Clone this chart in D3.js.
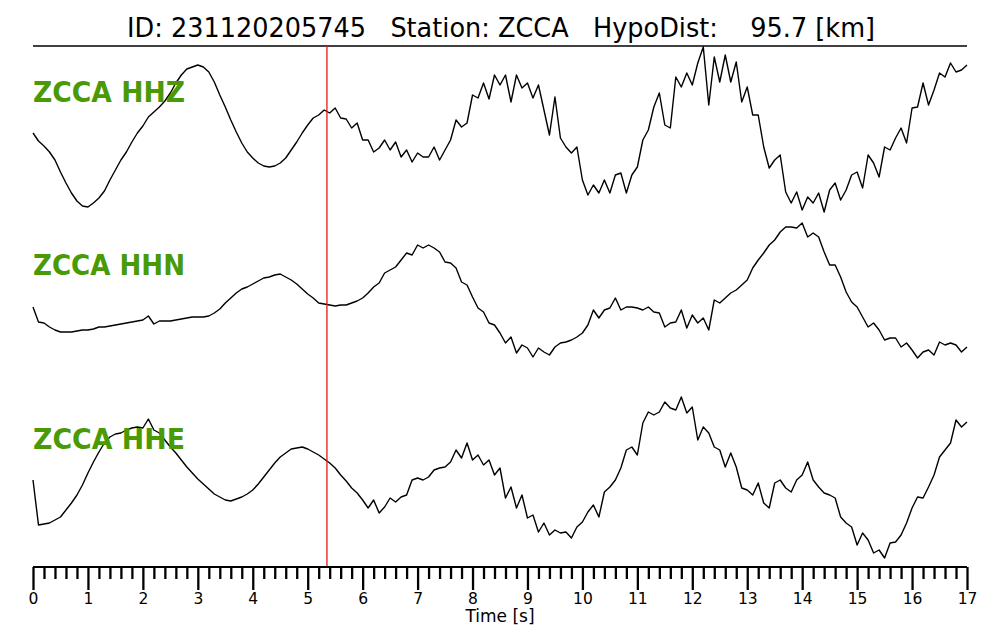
<!DOCTYPE html>
<html>
<head>
<meta charset="utf-8">
<script src="https://cdn.jsdelivr.net/npm/d3@7/dist/d3.min.js"></script>
<style>
  html, body { margin: 0; padding: 0; background: #fff; }
  svg { display: block; }
  text { font-family: "DejaVu Sans", sans-serif; }
</style>
</head>
<body>
<svg id="chart" width="1000" height="640"></svg>
<script>
// ---------------- data ----------------
const titleText = "ID: 231120205745   Station: ZCCA   HypoDist:    95.7 [km]";
const axisLabel = "Time [s]";
const timeStart = 0;
const timeEnd = 17;
const sampleStep = 0.1;           // seconds between samples
const pickTime = 5.35;            // red marker (s)
const tickLabels = ["0","1","2","3","4","5","6","7","8","9","10","11","12","13","14","15","16","17"];
const channels = ["ZCCA HHZ", "ZCCA HHN", "ZCCA HHE"];

// amplitudes (arbitrary counts), one sample every 0.1 s from 0 to 17 s
const hhz = [
  -3,-11,-16,-22,-30,-42,-53,-63,-71,-76,
  -77,-73,-68,-61,-50,-40,-30,-22,-12,-3,
  4,13,18,23,29,37,47,55,61,63,
  65,63,58,48,35,23,10,-2,-13,-22,
  -28,-33,-36,-37,-36,-33,-28,-20,-12,-3,
  5,12,15,20,17,22,12,11,2,7,
  -10,-10,-22,-18,-10,-20,-12,-27,-20,-32,
  -23,-27,-27,-17,-30,-20,-10,10,3,7,
  35,32,47,31,55,45,55,28,55,42,
  47,32,45,20,-5,33,-8,-17,-23,-17,
  -50,-65,-55,-63,-50,-63,-45,-43,-63,-45,
  -37,-10,0,23,37,5,2,53,43,57,
  45,67,83,25,73,48,75,48,68,28,
  43,15,15,-17,-38,-30,-25,-62,-73,-62,
  -80,-67,-73,-63,-82,-60,-53,-70,-60,-45,
  -42,-58,-25,-33,-47,-17,-20,-8,2,-13,
  22,23,47,25,40,57,53,67,58,60,
  65
];
const hhn = [
  -17,-32,-33,-37,-40,-42,-42,-42,-41,-40,
  -40,-39,-37,-37,-36,-35,-34,-33,-32,-31,
  -30,-26,-34,-31,-31,-31,-30,-29,-28,-27,
  -27,-27,-26,-23,-19,-13,-8,-3,1,3,
  6,9,12,13,15,16,13,10,6,1,
  -4,-8,-13,-14,-15,-16,-15,-15,-13,-11,
  -8,-3,3,7,17,20,23,30,37,35,
  45,42,45,42,38,28,27,22,8,5,
  -7,-18,-22,-33,-35,-43,-53,-47,-63,-55,
  -58,-67,-58,-62,-65,-57,-53,-52,-50,-47,
  -43,-35,-20,-28,-20,-18,-8,-20,-17,-17,
  -18,-20,-17,-22,-23,-37,-33,-32,-20,-38,
  -25,-33,-28,-40,-10,-13,-8,-3,0,5,
  10,22,30,37,45,50,58,63,63,62,
  67,53,57,53,38,25,25,13,-2,-12,
  -17,-27,-37,-33,-40,-50,-48,-48,-57,-53,
  -60,-68,-62,-60,-65,-52,-55,-53,-55,-62,
  -57
];
const hhe = [
  5,-40,-39,-38,-35,-32,-25,-18,-10,0,
  12,23,33,42,48,51,52,55,57,58,
  57,66,55,52,45,38,32,25,18,12,
  6,1,-4,-9,-12,-15,-16,-14,-12,-9,
  -5,1,8,15,22,28,32,36,37,38,
  36,33,30,26,22,17,10,4,-3,-8,
  -15,-23,-15,-28,-22,-13,-17,-12,-10,5,
  7,5,8,15,17,18,23,35,27,42,
  25,30,20,25,10,17,-13,-2,-23,-10,
  -33,-30,-47,-38,-50,-45,-48,-47,-53,-42,
  -37,-27,-20,-32,-7,-2,5,17,35,38,
  30,62,73,70,73,83,77,75,88,72,
  78,45,58,52,38,35,18,32,18,-3,
  -5,-10,2,-18,-23,2,5,-3,-7,5,
  10,23,5,-2,-8,-10,-13,-32,-38,-42,
  -60,-48,-55,-68,-65,-73,-58,-57,-50,-38,
  -23,-12,-13,-2,10,28,35,42,65,58,
  63
];
const traces = [hhz, hhn, hhe];

// ---------------- layout ----------------
const svg = d3.select("#chart");
const left = 33, right = 967;
const topLine = 46, axisY = 567;
const traceCenters = [130, 290, 485];
const labelBaselines = [102, 275, 449];
const green = "#4a9a06";

const x = d3.scaleLinear().domain([timeStart, timeEnd]).range([left, right]);

// title
svg.append("text")
  .attr("x", 127).attr("y", 37)
  .style("white-space", "pre")
  .attr("xml:space", "preserve")
  .attr("font-size", 26.5)
  .attr("textLength", 748)
  .attr("lengthAdjust", "spacingAndGlyphs")
  .attr("fill", "#000")
  .text(titleText);

// top rule
svg.append("line")
  .attr("x1", x(timeStart)).attr("x2", x(timeEnd))
  .attr("y1", topLine).attr("y2", topLine)
  .attr("stroke", "#000").attr("stroke-width", 1.6);

// traces
traces.forEach((vals, k) => {
  const c = traceCenters[k];
  const y = d3.scaleLinear().domain([-100, 100]).range([c + 100, c - 100]);
  const line = d3.line()
    .x((d, i) => x(timeStart + i * sampleStep))
    .y(d => y(d));
  svg.append("path")
    .datum(vals)
    .attr("d", line)
    .attr("fill", "none")
    .attr("stroke", "#000")
    .attr("stroke-width", 1.4)
    .attr("stroke-linejoin", "round");
});

// channel labels
channels.forEach((name, k) => {
  svg.append("text")
    .attr("x", left)
    .attr("y", labelBaselines[k])
    .attr("font-size", 28)
    .attr("font-weight", "bold")
    .attr("textLength", 152)
    .attr("lengthAdjust", "spacingAndGlyphs")
    .attr("fill", green)
    .text(name);
});

// pick marker
svg.append("line")
  .attr("x1", x(pickTime)).attr("x2", x(pickTime))
  .attr("y1", topLine).attr("y2", axisY)
  .attr("stroke", "#e8161b").attr("stroke-width", 1.3);

// axis
const axisG = svg.append("g").attr("transform", `translate(0,${axisY})`);
const majorAxis = d3.axisBottom(x)
  .tickValues(tickLabels.map(Number))
  .tickFormat((d, i) => tickLabels[i])
  .tickSize(23)
  .tickPadding(3);
axisG.call(majorAxis);
const minorVals = d3.range(0, 85 + 1).map(i => i / 5).filter(v => Math.abs(v - Math.round(v)) > 1e-6);
const minorAxis = d3.axisBottom(x).tickValues(minorVals).tickFormat("").tickSize(12);
const minorG = svg.append("g").attr("transform", `translate(0,${axisY})`).call(minorAxis);
[axisG, minorG].forEach(g => {
  g.select(".domain").attr("stroke", "#000").attr("stroke-width", 2.2).attr("d", `M${left},0H${right}`);
  g.selectAll(".tick line").attr("stroke", "#000").attr("stroke-width", 2.3);
});
axisG.selectAll(".tick text")
  .attr("font-family", "DejaVu Sans, sans-serif")
  .attr("font-size", 15.5)
  .attr("fill", "#000")
  .attr("dy", "0.71em");

svg.append("text")
  .attr("x", 500).attr("y", 622)
  .attr("text-anchor", "middle")
  .attr("font-size", 17)
  .attr("fill", "#000")
  .text(axisLabel);
</script>
</body>
</html>
